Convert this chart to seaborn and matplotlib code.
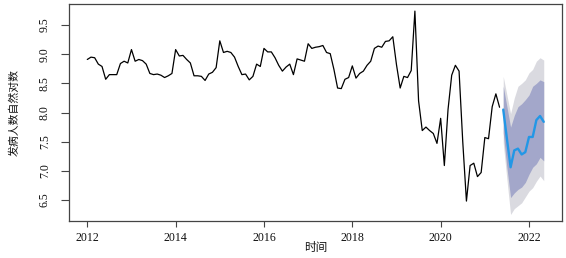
import numpy as np
import pandas as pd
import matplotlib
matplotlib.use("Agg")
import matplotlib.pyplot as plt
import seaborn as sns

# ---- data ----
start_year = 2012
observed = [
    8.91, 8.95, 8.94, 8.83, 8.79, 8.57, 8.65, 8.65, 8.65, 8.84, 8.88, 8.85,
    9.08, 8.88, 8.91, 8.89, 8.83, 8.67, 8.65, 8.66, 8.64, 8.60, 8.63, 8.67,
    9.08, 8.97, 8.98, 8.91, 8.85, 8.63, 8.63, 8.62, 8.55, 8.66, 8.69, 8.77,
    9.23, 9.03, 9.05, 9.03, 8.95, 8.79, 8.65, 8.66, 8.56, 8.62, 8.83, 8.79,
    9.10, 9.04, 9.04, 8.94, 8.81, 8.71, 8.78, 8.83, 8.65, 8.92, 8.90, 8.88,
    9.18, 9.10, 9.12, 9.13, 9.15, 9.03, 9.01, 8.74, 8.42, 8.41, 8.57, 8.60,
    8.80, 8.59, 8.67, 8.71, 8.81, 8.88, 9.10, 9.14, 9.12, 9.22, 9.23, 9.30,
    8.82, 8.42, 8.62, 8.60, 8.72, 9.74, 8.20, 7.69, 7.75, 7.69, 7.64, 7.47,
    7.90, 7.09, 8.05, 8.64, 8.81, 8.71, 7.50, 6.48, 7.09, 7.13, 6.90, 6.97,
    7.57, 7.55, 8.10, 8.32, 8.09,
]
forecast = [8.05, 7.55, 7.06, 7.35, 7.38, 7.28, 7.32, 7.58, 7.58, 7.87, 7.94, 7.84]
upper95 = [8.62, 8.30, 7.98, 8.25, 8.45, 8.50, 8.56, 8.68, 8.74, 8.88, 8.94, 8.90]
upper80 = [8.45, 8.10, 7.75, 7.95, 8.10, 8.15, 8.22, 8.30, 8.45, 8.50, 8.56, 8.53]
lower80 = [7.65, 7.05, 6.54, 6.62, 6.68, 6.72, 6.80, 6.94, 7.06, 7.12, 7.23, 7.17]
lower95 = [7.48, 6.85, 6.25, 6.35, 6.40, 6.45, 6.55, 6.65, 6.71, 6.82, 6.91, 6.83]
x_ticks = [2012, 2014, 2016, 2018, 2020, 2022]
y_ticks = [6.5, 7.0, 7.5, 8.0, 8.5, 9.0, 9.5]
x_label = "时间"
y_label = "发病人数自然对数"

n_obs = len(observed)
t_obs = start_year + np.arange(n_obs) / 12.0
t_fc = start_year + (n_obs + np.arange(len(forecast))) / 12.0
obs_df = pd.DataFrame({"t": t_obs, "v": observed})
fc_df = pd.DataFrame({"t": t_fc, "v": forecast})

sns.set_theme(style="ticks")
plt.rcParams["font.family"] = ["Liberation Serif", "Noto Sans CJK SC"]

fig = plt.figure(figsize=(5.66, 2.58), dpi=100)
ax = fig.add_axes([69 / 566, 1 - 221 / 258, 493 / 566, 217 / 258])

ax.fill_between(t_fc, lower95, upper95, color="#DADAE0", linewidth=0)
ax.fill_between(t_fc, lower80, upper80, color="#A3A7CA", linewidth=0)
sns.lineplot(data=obs_df, x="t", y="v", ax=ax, color="black", linewidth=0.9)
sns.lineplot(data=fc_df, x="t", y="v", ax=ax, color="#2297E6", linewidth=1.7)

ax.set_xlim(2011.586, 2022.747)
ax.set_ylim(6.138, 9.862)
ax.set_xticks(x_ticks)
ax.set_xticklabels([str(v) for v in x_ticks])
ax.set_yticks(y_ticks)
ax.set_yticklabels([f"{v:.1f}" for v in y_ticks], rotation=90, va="center")

for s in ax.spines.values():
    s.set_visible(True)
    s.set_color("#444444")
    s.set_linewidth(0.9)

ax.tick_params(axis="x", length=4, width=0.8, color="#444444", pad=4,
               labelsize=8.6, labelcolor="#111111")
ax.tick_params(axis="y", length=6, width=0.8, color="#444444", pad=7,
               labelsize=8.6, labelcolor="#111111")

ax.set_xlabel(x_label, fontsize=8.4, family=["Noto Sans CJK SC"], color="#111111")
ax.set_ylabel(y_label, fontsize=7.8, family=["Noto Sans CJK SC"], color="#111111")
ax.xaxis.set_label_coords((315.5 - 69) / 493, (221 - 248) / 217)
ax.yaxis.set_label_coords((14 - 69) / 493, 0.5)
ax.xaxis.label.set_va("center")
ax.yaxis.label.set_va("center")

fig.savefig("out.png", dpi=100)
